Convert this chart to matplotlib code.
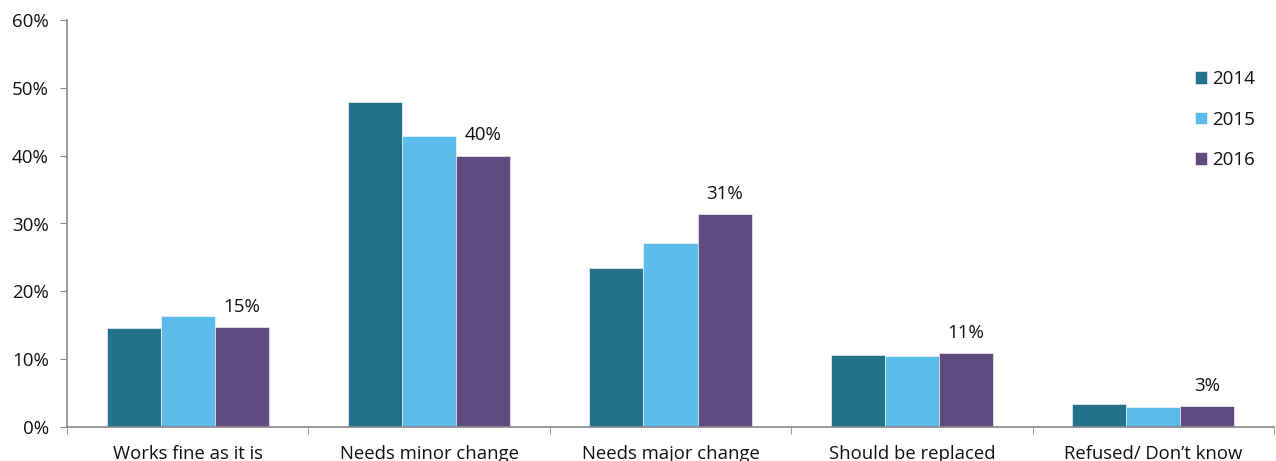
import numpy as np
import matplotlib.pyplot as plt
from matplotlib.ticker import PercentFormatter

plt.rcParams['font.family'] = ['Open Sans', 'DejaVu Sans']

# Data
categories = ['Works fine as it is', 'Needs minor change', 'Needs major change',
              'Should be replaced', 'Refused/ Don\u2019t know']
years = ['2014', '2015', '2016']
v2014 = [14.6, 47.9, 23.5, 10.6, 3.4]
v2015 = [16.4, 42.9, 27.1, 10.5, 2.9]
v2016 = [14.7, 40.0, 31.4, 10.9, 3.1]
colors = ['#22728a', '#5bbbea', '#5e4b80']
txt = '#111111'

fig = plt.figure(figsize=(12.76, 4.61), dpi=100)
ax = fig.add_axes([67/1276, 34/461, (1274-67)/1276, (427-20)/461])

x = np.arange(len(categories))
w = 0.224
for i, (vals, yr) in enumerate(zip([v2014, v2015, v2016], years)):
    bars = ax.bar(x + (i - 1) * w, vals, w, color=colors[i], label=yr,
                  edgecolor='white', linewidth=0.4)
    if yr == '2016':
        for b, v in zip(bars, vals):
            ax.text(b.get_x() + b.get_width() / 2, v + 3.0, f'{v:.0f}%',
                    ha='center', va='center', fontsize=13.5, color=txt)

ax.set_xlim(-0.5, len(categories) - 0.5)
ax.set_ylim(0, 60)
ax.set_yticks(np.arange(0, 61, 10))
ax.yaxis.set_major_formatter(PercentFormatter(decimals=0))
ax.set_xticks(x)
ax.set_xticklabels(categories, fontsize=13.3, color=txt)
ax.set_xticks(np.arange(-0.5, len(categories), 1), minor=True)
ax.tick_params(axis='x', which='major', length=0, pad=13)
ax.tick_params(axis='x', which='minor', length=5, color='#888888', direction='out')
ax.tick_params(axis='y', length=5, color='#888888', labelsize=13.5,
               labelcolor=txt, pad=8)

for s in ['top', 'right']:
    ax.spines[s].set_visible(False)
for s in ['left', 'bottom']:
    ax.spines[s].set_color('#888888')
    ax.spines[s].set_linewidth(1.2)

leg = ax.legend(loc='upper right', bbox_to_anchor=(0.998, 0.918), frameon=False,
                fontsize=13.5, handlelength=0.65, handleheight=0.65,
                labelspacing=1.2, handletextpad=0.25)
for t in leg.get_texts():
    t.set_color(txt)

fig.savefig('out.png', dpi=100)
